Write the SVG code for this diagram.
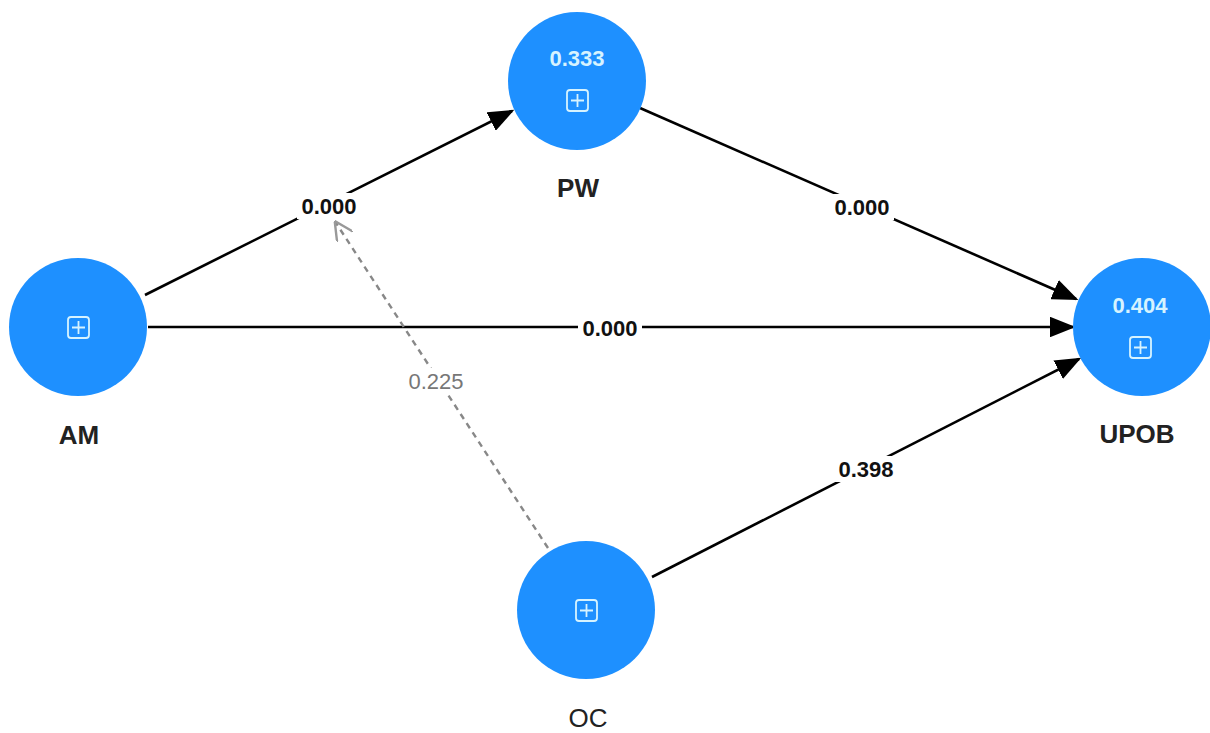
<svg xmlns="http://www.w3.org/2000/svg" width="1210" height="733" viewBox="0 0 1210 733">
<defs>
<style>
.node{fill:#1E90FF;}
.lbl{font-family:"Liberation Sans",Arial,sans-serif;font-size:26px;font-weight:bold;fill:#222;text-anchor:middle;}
.val{font-family:"Liberation Sans",Arial,sans-serif;font-size:22px;font-weight:bold;fill:#d6f3ff;text-anchor:middle;}
.ico{fill:none;stroke:#d6f3ff;stroke-width:1.8;}
.edge{stroke:#000;stroke-width:2.6;fill:none;}
.dash{stroke:#888;stroke-width:2.4;fill:none;stroke-dasharray:6,5;}
.elbl{font-family:"Liberation Sans",Arial,sans-serif;font-size:22px;font-weight:bold;fill:#111;text-anchor:middle;}
.elbl2{font-family:"Liberation Sans",Arial,sans-serif;font-size:22px;fill:#777;text-anchor:middle;}
.bg{fill:#fff;}
</style>
<marker id="arr" markerWidth="10" markerHeight="8" refX="9" refY="4" orient="auto" markerUnits="strokeWidth">
<path d="M0,0 L10,4 L0,8 z" fill="#000"/>
</marker>
<marker id="arrg" markerWidth="8" markerHeight="8" refX="7" refY="4" orient="auto" markerUnits="strokeWidth">
<path d="M0,0 L8,4 L0,8" fill="none" stroke="#999" stroke-width="1"/>
</marker>
</defs>
<rect width="1210" height="733" fill="#fff"/>
<g id="connectors">
<line class="edge" x1="145" y1="295" x2="512" y2="111" marker-end="url(#arr)"/>
<line class="edge" x1="640" y1="108" x2="1076" y2="299" marker-end="url(#arr)"/>
<line class="edge" x1="148" y1="327" x2="1073" y2="327" marker-end="url(#arr)"/>
<line class="edge" x1="652" y1="577" x2="1079" y2="359" marker-end="url(#arr)"/>
<line class="dash" x1="548" y1="548" x2="336" y2="223" marker-end="url(#arrg)"/>
<rect class="bg" x="297" y="193" width="64" height="26"/>
<text class="elbl" x="329" y="214">0.000</text>
<rect class="bg" x="830" y="194" width="64" height="26"/>
<text class="elbl" x="862" y="215">0.000</text>
<rect class="bg" x="578" y="315" width="64" height="26"/>
<text class="elbl" x="610" y="336">0.000</text>
<rect class="bg" x="404" y="368" width="64" height="26"/>
<text class="elbl2" x="436" y="389">0.225</text>
<rect class="bg" x="834" y="456" width="64" height="26"/>
<text class="elbl" x="866" y="477">0.398</text>
</g>
<g id="node-PW">
<circle class="node" cx="577" cy="81" r="69"/>
<text class="val" x="577" y="66">0.333</text>
<rect class="ico" x="567" y="90" width="21" height="21" rx="3"/>
<path class="ico" d="M577.5,94 V107 M571,100.5 H584"/>
<text class="lbl" x="578" y="197">PW</text>
</g>
<g id="node-AM">
<circle class="node" cx="78" cy="327" r="69"/>
<rect class="ico" x="68" y="317" width="21" height="21" rx="3"/>
<path class="ico" d="M78.5,321 V334 M72,327.5 H85"/>
<text class="lbl" x="79" y="444">AM</text>
</g>
<g id="node-UPOB">
<circle class="node" cx="1142" cy="327" r="69"/>
<text class="val" x="1140" y="313">0.404</text>
<rect class="ico" x="1130" y="337" width="21" height="21" rx="3"/>
<path class="ico" d="M1140.5,341 V354 M1134,347.5 H1147"/>
<text class="lbl" x="1137" y="443">UPOB</text>
</g>
<g id="node-OC">
<circle class="node" cx="586" cy="610" r="69"/>
<rect class="ico" x="576" y="600" width="21" height="21" rx="3"/>
<path class="ico" d="M586.5,604 V617 M580,610.5 H593"/>
<text class="lbl" x="588" y="727" style="font-weight:normal">OC</text>
</g>
</svg>
